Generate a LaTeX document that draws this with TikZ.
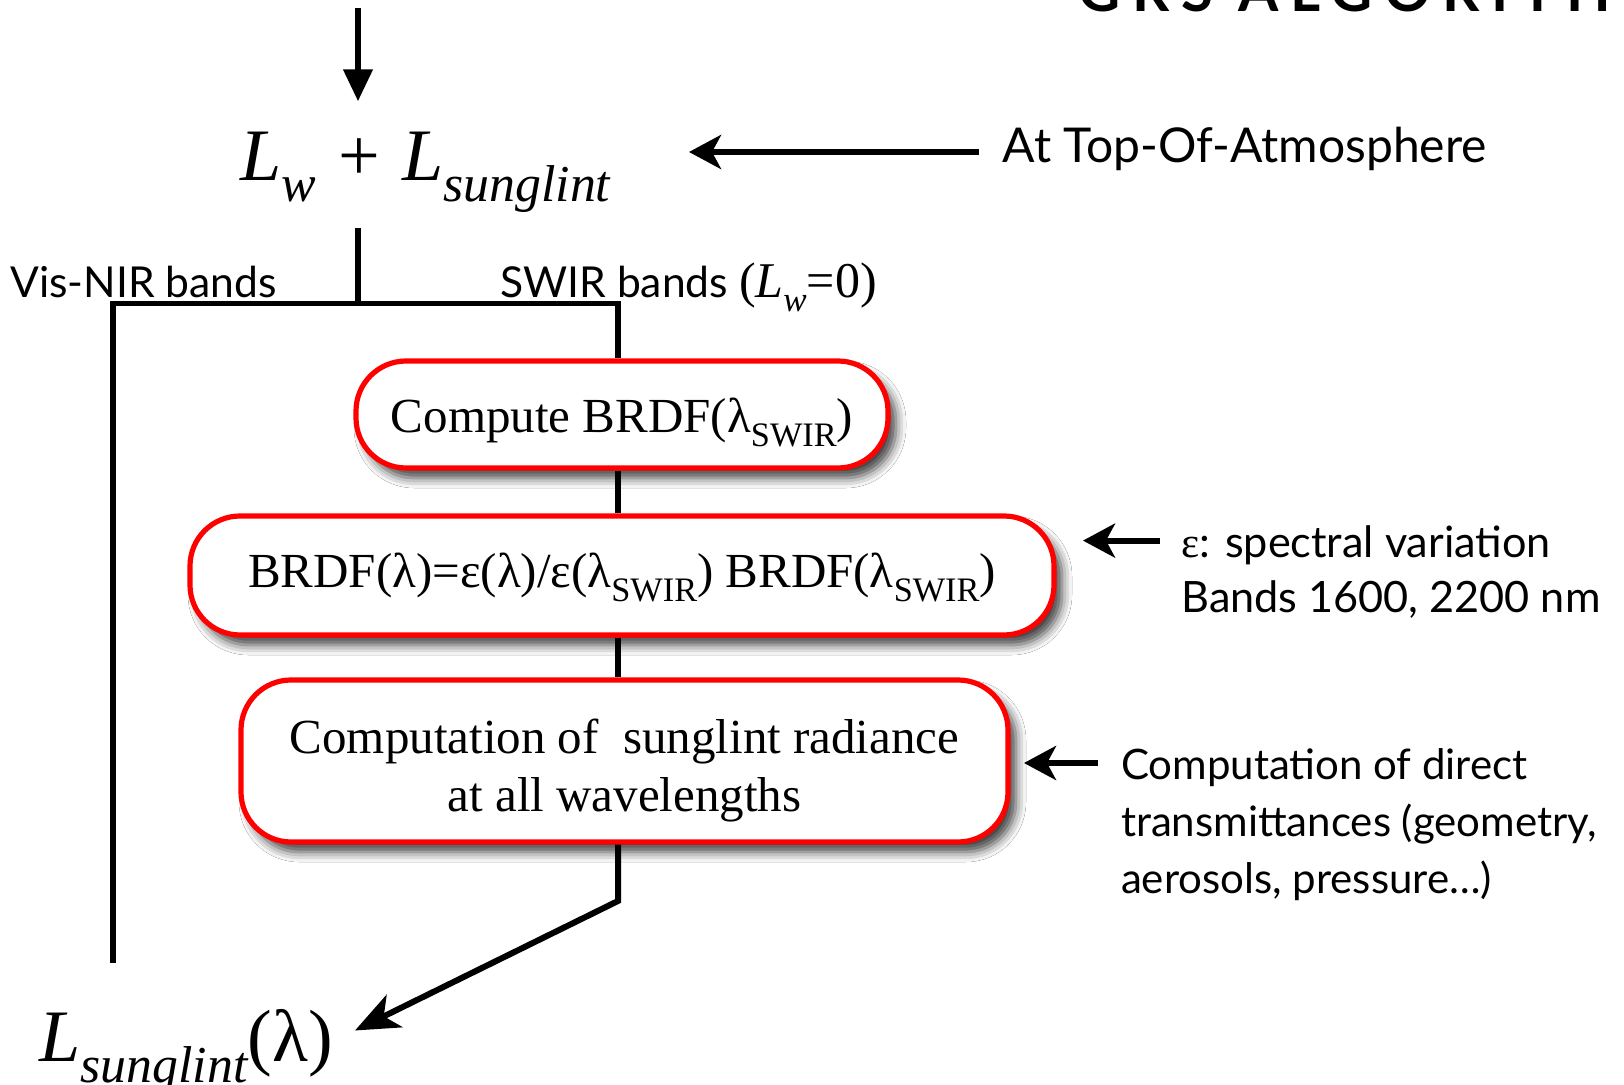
\documentclass[tikz,border=0pt]{standalone}
\usepackage{fontspec}
\setmainfont{Lato}
\newfontfamily\serif{Liberation Serif}
\newfontfamily\titlefont[LetterSpace=20]{Lato}
\usetikzlibrary{arrows.meta,shadows.blur}
% lowered, reduced subscript
\newcommand\sbs[1]{\raisebox{-0.28em}{\scalebox{0.7}{#1}}}
% put the baseline of a text a fixed distance below the node centre
\newcommand\setlow[2]{\raisebox{-#1}[0pt][0pt]{#2}}
\tikzset{
  proc/.style={draw=red, line width=2.6pt, fill=white, rounded corners=25pt,
    blur shadow={shadow xshift=4pt, shadow yshift=-5pt, shadow blur radius=5pt, shadow opacity=75},
    inner sep=0pt, align=center, font=\serif\fontsize{24.5}{28.5}\selectfont},
  label/.style={anchor=base west, inner sep=0pt, align=left},
  wire/.style={line width=2.8pt},
  feed/.style={line width=3.4pt, -{Triangle[length=16pt,width=14pt]}},
  note/.style={line width=3pt, -{Stealth[length=16pt,width=17pt,inset=4.5pt]}},
  outarr/.style={line width=3pt, -{Stealth[length=22pt,width=18pt,inset=6pt]}},
  bigmath/.style={anchor=base west, inner sep=0pt, font=\serif\fontsize{37}{40}\selectfont},
}
\begin{document}
\begin{tikzpicture}[x=0.5pt,y=-0.5pt]
\useasboundingbox (0,0) rectangle (1624,1085);
\fill[white] (0,0) rectangle (1624,1085);

% heading
\node[anchor=base west, inner sep=0pt, font=\titlefont\bfseries\fontsize{29}{30}\selectfont] (title) at (1078,12) {GRS ALGORITHM};

% main expressions
\node[bigmath] (top) at (240,181) {\itshape L\sbs{w}\hspace{0.3em}\upshape+\hspace{0.3em}\itshape L\sbs{sunglint}};
\node[bigmath] (out) at (39,1061.6) {\itshape L\sbs{sunglint}\upshape(λ)};

% processing steps
\node[proc, minimum width=266pt, minimum height=53.5pt] (b1) at (622,414.5)
  {\setlow{9pt}{Compute BRDF(λ\sbs{SWIR})}};
\node[proc, minimum width=432pt, minimum height=59.5pt] (b2) at (622,575.5)
  {\setlow{6pt}{BRDF(λ)=ε(λ)/ε(λ\sbs{SWIR}) BRDF(λ\sbs{SWIR})}};
\node[proc, minimum width=383.5pt, minimum height=81pt] (b3) at (624.5,761)
  {\setlow{25pt}{\begin{tabular}[b]{@{}c@{}}Computation of \ sunglint radiance\\at all wavelengths\end{tabular}}};

% branch labels
\node[label, font=\fontsize{21.3}{24}\selectfont] (vis) at (10,298) {Vis-NIR bands};
\node[label, font=\fontsize{21.3}{24}\selectfont] (swir) at (500,298)
  {SWIR bands {\serif\fontsize{25}{28}\selectfont(\itshape L\sbs{w}\upshape=0)}};

% side notes
\node[label, font=\fontsize{24}{28}\selectfont] (toa) at (1002.5,162.6) {At Top-Of-Atmosphere};
\node[label, font=\fontsize{21.6}{28}\selectfont] (eps) at (1181,613)
  {{\serif ε}: spectral variation\\Bands 1600, 2200 nm};
\node[label, font=\fontsize{21}{28.5}\selectfont] (trans) at (1120.6,893)
  {Computation of direct\\transmittances (geometry,\\aerosols, pressure\dots)};

% connector points
\coordinate (in) at (358,8);
\coordinate (inTip) at (358,101.5);
\coordinate (stem) at (358,228);
\coordinate (split) at (358,303.5);
\coordinate (lcorner) at (113,303.5);
\coordinate (rcorner) at (618,303.5);
\coordinate (lend) at (113,963);
\coordinate (bend) at (618,901);
\coordinate (outTip) at (355,1030.5);
\coordinate (toaTail) at (979,152);
\coordinate (toaTip) at (689,152);
\coordinate (epsTail) at (1160,540.6);
\coordinate (epsTip) at (1083,540.6);
\coordinate (trTail) at (1098,763);
\coordinate (trTip) at (1024,763);

% flow
\draw[feed] (in) -- (inTip);
\draw[wire] (stem) -- (split);
\draw[wire] (lend) -- (lcorner) -- (rcorner) -- (b1.north -| rcorner);
\draw[wire] (b1.south -| rcorner) -- (b2.north -| rcorner);
\draw[wire] (b2.south -| rcorner) -- (b3.north -| rcorner);
\draw[outarr] (b3.south -| rcorner) -- (bend) -- (outTip);

% note arrows
\draw[note] (toaTail) -- (toaTip);
\draw[note] (epsTail) -- (epsTip);
\draw[note] (trTail) -- (trTip);
\end{tikzpicture}
\end{document}
